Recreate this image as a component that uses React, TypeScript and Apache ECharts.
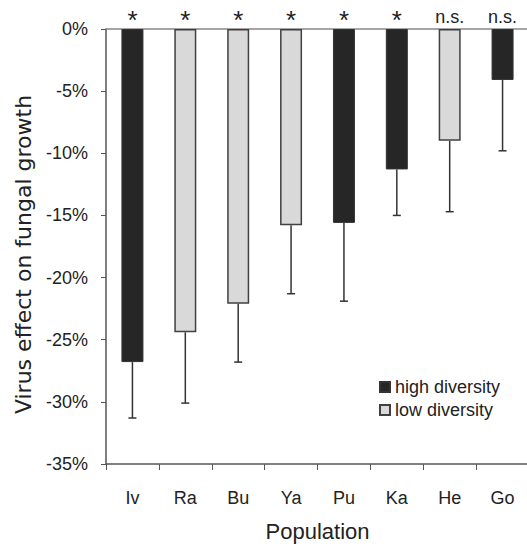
import React, { useEffect, useRef } from "react";
import * as echarts from "echarts";

const categories = ["Iv", "Ra", "Bu", "Ya", "Pu", "Ka", "He", "Go"];
const diversity = ["high", "low", "low", "low", "high", "high", "low", "high"];
const effect = [-26.8, -24.4, -22.1, -15.8, -15.6, -11.3, -9.0, -4.1];
const errorLower = [-31.3, -30.1, -26.8, -21.3, -21.9, -15.0, -14.7, -9.8];
const significance = ["*", "*", "*", "*", "*", "*", "n.s.", "n.s."];

const FONT = "Liberation Sans";
const TEXT = "#222";
const AXIS = "#555";

export default function App() {
  const ref = useRef<HTMLDivElement>(null);
  useEffect(() => {
    if (!ref.current) return;
    const chart = echarts.init(ref.current, undefined, { renderer: "svg" });
    const high = effect.map((v, i) => (diversity[i] === "high" ? v : "-"));
    const low = effect.map((v, i) => (diversity[i] === "low" ? v : "-"));
    const errData = effect.map((v, i) => [i, v, errorLower[i]]);
    chart.setOption({
      animation: false,
      textStyle: { fontFamily: FONT },
      grid: { left: 106, top: 29, width: 423, height: 435, outerBoundsMode: "none", containLabel: false },
      legend: {
        orient: "vertical",
        left: 374,
        top: 373,
        itemWidth: 10,
        itemHeight: 10,
        itemGap: 5,
        icon: "rect",
        textStyle: { fontFamily: FONT, fontSize: 18, color: TEXT },
        data: ["high diversity", "low diversity"],
      },
      xAxis: [
        {
          type: "category",
          data: categories,
          position: "bottom",
          name: "Population",
          nameLocation: "middle",
          nameGap: 56,
          nameTextStyle: { fontFamily: FONT, fontSize: 22, color: TEXT },
          axisLine: { onZero: false, lineStyle: { color: AXIS, width: 1.5 } },
          axisTick: { show: true, length: 6, alignWithLabel: false, lineStyle: { color: AXIS } },
          axisLabel: { fontFamily: FONT, fontSize: 18, color: TEXT, margin: 25 },
        },
        {
          type: "category",
          data: categories,
          position: "top",
          axisLine: { onZero: false, lineStyle: { color: "#888", width: 1.5 } },
          axisTick: { show: false },
          axisLabel: {
            margin: 3,
            formatter: (_v: string, i: number) =>
              significance[i] === "*" ? "{a|*}" : "{b|" + significance[i] + "}",
            rich: {
              a: { fontFamily: FONT, fontSize: 26, lineHeight: 12, color: TEXT },
              b: { fontFamily: FONT, fontSize: 18, lineHeight: 18, color: TEXT },
            },
          },
        },
      ],
      yAxis: {
        type: "value",
        min: -35,
        max: 0,
        interval: 5,
        name: "Virus effect on fungal growth",
        nameLocation: "middle",
        nameGap: 72,
        nameTextStyle: { fontFamily: "DejaVu Sans", fontSize: 22, color: TEXT, padding: [0, 16, 0, 0] },
        splitLine: { show: false },
        axisLine: { show: true, lineStyle: { color: AXIS, width: 1.5 } },
        axisTick: { show: true, length: 5, lineStyle: { color: AXIS } },
        axisLabel: {
          fontFamily: FONT,
          fontSize: 18,
          color: TEXT,
          margin: 18,
          formatter: (v: number) => v + "%",
        },
      },
      series: [
        {
          name: "high diversity",
          type: "bar",
          stack: "s",
          barWidth: 22,
          data: high,
          itemStyle: { color: "#262626", borderColor: "#333", borderWidth: 1 },
        },
        {
          name: "low diversity",
          type: "bar",
          stack: "s",
          barWidth: 22,
          data: low,
          itemStyle: { color: "#d9d9d9", borderColor: "#404040", borderWidth: 1.5 },
        },
        {
          name: "error",
          type: "custom",
          data: errData,
          encode: { x: 0, y: [1, 2] },
          z: 5,
          renderItem: (_p: any, api: any) => {
            const a = api.coord([api.value(0), api.value(1)]);
            const b = api.coord([api.value(0), api.value(2)]);
            const hw = 4;
            const style = { stroke: "#333", lineWidth: 1.5 };
            return {
              type: "group",
              children: [
                { type: "line", shape: { x1: a[0], y1: a[1], x2: b[0], y2: b[1] }, style },
                { type: "line", shape: { x1: b[0] - hw, y1: b[1], x2: b[0] + hw, y2: b[1] }, style },
              ],
            };
          },
        },
      ],
    });
    return () => chart.dispose();
  }, []);
  return (
    <div
      ref={ref}
      style={{ position: "fixed", left: 0, top: 0, width: 527, height: 546, background: "#fff" }}
    />
  );
}
